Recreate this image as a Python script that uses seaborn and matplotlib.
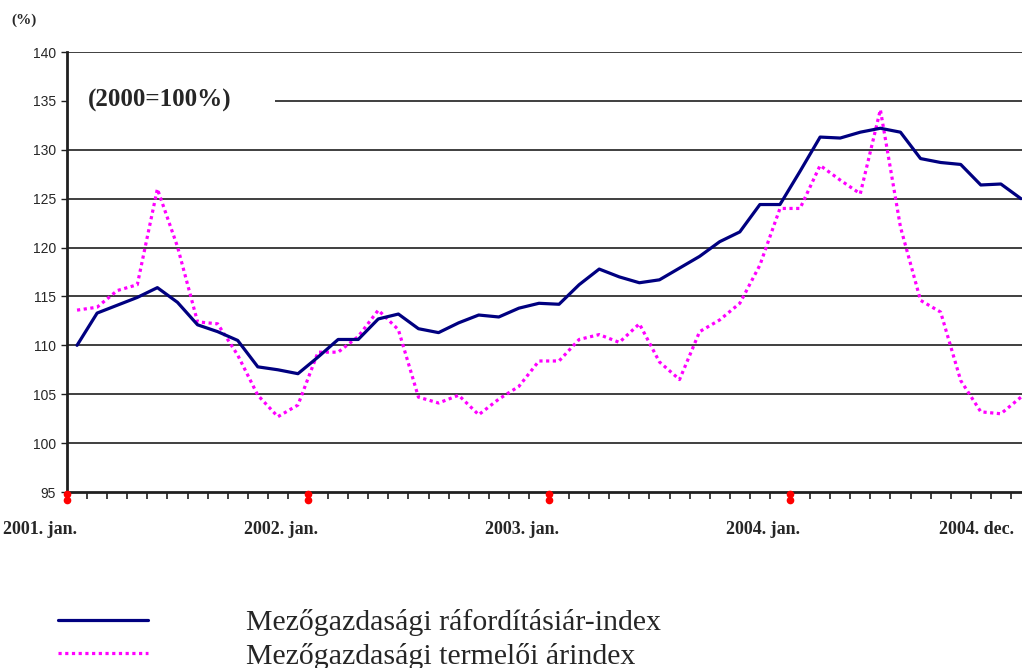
import numpy as np
import pandas as pd
import matplotlib
matplotlib.use("Agg")
import matplotlib.pyplot as plt
import matplotlib.transforms as mtransforms
from matplotlib.patches import Rectangle
import seaborn as sns

# ---- data (monthly, 2001 jan .. 2004 dec, 2000=100%) ----
input_index = [110.0, 113.3, 114.1, 114.9, 115.9, 114.4, 112.1, 111.4, 110.5, 107.8, 107.5, 107.1,
               108.8, 110.6, 110.6, 112.7, 113.2, 111.7, 111.3, 112.3, 113.1, 112.9, 113.8, 114.3,
               114.2, 116.2, 117.8, 117.0, 116.4, 116.7, 117.9, 119.1, 120.6, 121.6, 124.4, 124.4,
               127.8, 131.3, 131.2, 131.8, 132.2, 131.8, 129.1, 128.7, 128.5, 126.4, 126.5, 125.0]
producer_index = [113.6, 113.9, 115.6, 116.2, 126.0, 120.1, 112.4, 112.2, 109.0, 104.9, 102.7, 103.9,
                  109.3, 109.3, 110.9, 113.6, 111.6, 104.7, 104.1, 104.9, 102.9, 104.5, 105.8, 108.4,
                  108.4, 110.6, 111.1, 110.3, 112.2, 108.3, 106.5, 111.4, 112.6, 114.3, 118.2, 124.0,
                  124.0, 128.4, 126.9, 125.5, 134.1, 122.1, 114.6, 113.4, 106.4, 103.2, 103.0, 104.7]
series_names = ["Mezőgazdasági ráfordításiár-index", "Mezőgazdasági termelői árindex"]
tick_labels = ["2001. jan.", "2002. jan.", "2003. jan.", "2004. jan.", "2004. dec."]
year_starts = [0, 12, 24, 36]
y_ticks = [95, 100, 105, 110, 115, 120, 125, 130, 135, 140]

sns.set_theme(style="white")
plt.rcParams["font.family"] = ["Liberation Serif", "DejaVu Serif"]

W, H = 1022, 668
fig = plt.figure(figsize=(W / 100, H / 100), dpi=100)
ax_left, ax_right, ax_top, ax_bottom = 67, 1031, 52, 492
ax = fig.add_axes([ax_left / W, (H - ax_bottom) / H, (ax_right - ax_left) / W, (ax_bottom - ax_top) / H])

month_pos = np.arange(len(input_index)) + 0.5
df = pd.DataFrame({"pos": month_pos, "input": input_index, "producer": producer_index})

sns.lineplot(data=df, x="pos", y="input", ax=ax, color="#000080", lw=2.3,
             label=series_names[0], zorder=4)
sns.lineplot(data=df, x="pos", y="producer", ax=ax, color="#FF00FF", lw=2.3,
             label=series_names[1], zorder=3)
pink_line = ax.lines[1]
pink_line.set_dashes((1.0, 1.1))
pink_line.set_dash_capstyle("butt")

ax.set_xlim(0, 48)
ax.set_ylim(95, 140)
ax.set_xlabel("")
ax.set_ylabel("")

# grid
for v in y_ticks[1:]:
    ax.axhline(v, color="#303030", lw=1.3, zorder=1)

# white box behind the base label
ax.add_patch(Rectangle((0, 133.3), 10.36, 3.4, facecolor="white", edgecolor="none", zorder=2))
ax.text(1.05, 135, "(2000=100%)", fontsize=18, fontweight="bold", va="center", ha="left",
        zorder=5, family=["Liberation Serif", "DejaVu Serif"])

# spines
for s in ["top", "right"]:
    ax.spines[s].set_visible(False)
for s in ["left", "bottom"]:
    ax.spines[s].set_color("#202020")
    ax.spines[s].set_linewidth(2.0)

# y ticks
ax.set_yticks(y_ticks)
ax.set_yticklabels([str(v) for v in y_ticks], family=["Liberation Sans", "DejaVu Sans"], fontsize=10)
ax.tick_params(axis="y", direction="out", length=4, width=1, color="#202020", pad=4, left=True)

# x ticks: minor monthly ticks, labels near year starts
ax.set_xticks(np.arange(0, 49), minor=True)
label_pos = [m + 0.5 for m in year_starts] + [47.15]
ax.set_xticks(label_pos)
ax.set_xticklabels(tick_labels, fontsize=13, fontweight="bold", ha="right")
ax.tick_params(axis="x", which="major", length=0, pad=21)
ax.tick_params(axis="x", which="minor", direction="out", length=5, width=1.2, color="#202020", bottom=True)

# red year markers
off1 = mtransforms.offset_copy(ax.transData, fig=fig, x=0, y=-2, units="dots")
off2 = mtransforms.offset_copy(ax.transData, fig=fig, x=0, y=-8, units="dots")
ax.plot(year_starts, [95] * len(year_starts), "o", color="red", ms=4.5, transform=off1, clip_on=False, zorder=6)
ax.plot(year_starts, [95] * len(year_starts), "o", color="red", ms=4.5, transform=off2, clip_on=False, zorder=6)

# unit label
fig.text(11 / W, 1 - 20 / H, "(%)", fontsize=11, fontweight="bold", va="center", ha="left")

# legend
handles = ax.lines[:2]
leg = ax.legend(handles, series_names, loc="upper left",
                bbox_to_anchor=(58 / W, 1 - 609 / H), bbox_transform=fig.transFigure,
                frameon=False, fontsize=21.5, handlelength=3.0, handletextpad=3.3,
                labelspacing=0.22, borderpad=0, borderaxespad=0)

fig.savefig("out.png", dpi=100)
